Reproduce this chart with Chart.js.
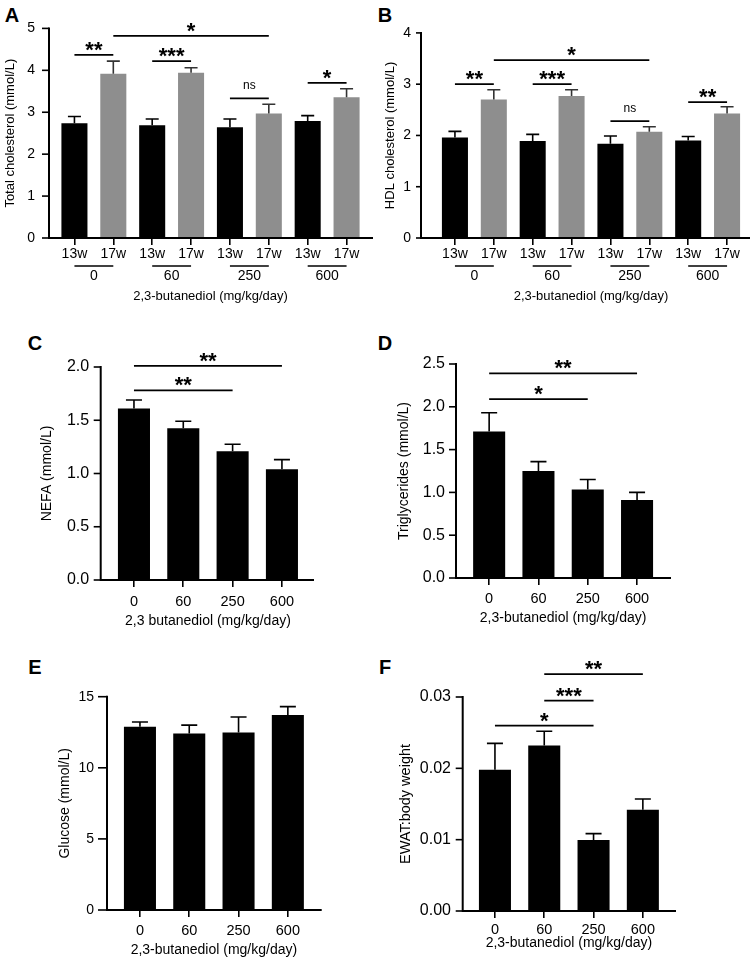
<!DOCTYPE html>
<html>
<head>
<meta charset="utf-8">
<script src="https://cdn.jsdelivr.net/npm/chart.js@4.4.1/dist/chart.umd.min.js"></script>
<style>
  html, body { margin: 0; padding: 0; background: #fff; }
  #fig { position: relative; width: 754px; height: 959px; overflow: hidden; font-family: 'Liberation Sans', Arial, sans-serif; }
  .panel { position: absolute; }
  .tag { position: absolute; font-weight: bold; font-size: 20px; line-height: 1; transform: translate(-50%, -50%); }
</style>
</head>
<body>
<div id="fig">
  <div class="tag" style="left:12px;top:15px">A</div>
  <div class="tag" style="left:385px;top:15px">B</div>
  <div class="tag" style="left:35px;top:343px">C</div>
  <div class="tag" style="left:385px;top:343px">D</div>
  <div class="tag" style="left:35px;top:667px">E</div>
  <div class="tag" style="left:385px;top:667px">F</div>
  <div class="panel" style="left:0;top:0;width:377px;height:310px"><canvas id="chartA"></canvas></div>
  <div class="panel" style="left:377px;top:0;width:377px;height:310px"><canvas id="chartB"></canvas></div>
  <div class="panel" style="left:0;top:310px;width:377px;height:320px"><canvas id="chartC"></canvas></div>
  <div class="panel" style="left:377px;top:310px;width:377px;height:320px"><canvas id="chartD"></canvas></div>
  <div class="panel" style="left:0;top:630px;width:377px;height:329px"><canvas id="chartE"></canvas></div>
  <div class="panel" style="left:377px;top:630px;width:377px;height:329px"><canvas id="chartF"></canvas></div>
</div>
<script>
Chart.defaults.font.family = "'Liberation Sans', Arial, sans-serif";
Chart.defaults.color = '#000';
Chart.defaults.animation = false;

// categories
const weekLabels = ['13w', '17w', '13w', '17w', '13w', '17w', '13w', '17w'];
const doseGroups = ['0', '60', '250', '600'];

// A: total cholesterol (mmol/L), mean and SEM
const cholMeans = [2.74, 3.92, 2.69, 3.94, 2.64, 2.97, 2.79, 3.36];
const cholErrs = [0.16, 0.30, 0.15, 0.12, 0.20, 0.22, 0.13, 0.20];
// B: HDL cholesterol (mmol/L)
const hdlMeans = [1.96, 2.70, 1.89, 2.77, 1.84, 2.07, 1.90, 2.43];
const hdlErrs = [0.12, 0.19, 0.13, 0.12, 0.15, 0.10, 0.08, 0.13];
// C: NEFA (mmol/L)
const nefaMeans = [1.61, 1.425, 1.21, 1.04];
const nefaErrs = [0.08, 0.065, 0.065, 0.09];
// D: triglycerides (mmol/L)
const tgMeans = [1.71, 1.25, 1.035, 0.91];
const tgErrs = [0.22, 0.11, 0.115, 0.09];
// E: glucose (mmol/L)
const gluMeans = [12.89, 12.42, 12.49, 13.71];
const gluErrs = [0.33, 0.58, 1.08, 0.59];
// F: EWAT:body weight
const ewatMeans = [0.0198, 0.0232, 0.00995, 0.0142];
const ewatErrs = [0.0037, 0.0020, 0.0009, 0.0015];

// significance bars: a/b = category index, y = data value of the line
const cholSig = [
  { a: 0, b: 1, y: 4.37, t: '**' },
  { a: 2, b: 3, y: 4.22, t: '***' },
  { a: 1, b: 5, y: 4.82, t: '*' },
  { a: 4, b: 5, y: 3.33, t: 'ns' },
  { a: 6, b: 7, y: 3.70, t: '*' }
];
const hdlSig = [
  { a: 0, b: 1, y: 3.0, t: '**' },
  { a: 2, b: 3, y: 3.0, t: '***' },
  { a: 1, b: 5, y: 3.47, t: '*' },
  { a: 4, b: 5, y: 2.28, t: 'ns' },
  { a: 6, b: 7, y: 2.65, t: '**' }
];
const nefaSig = [
  { a: 0, b: 3, y: 2.01, t: '**' },
  { a: 0, b: 2, y: 1.78, t: '**' }
];
const tgSig = [
  { a: 0, b: 3, y: 2.39, t: '**' },
  { a: 0, b: 2, y: 2.09, t: '*' }
];
const ewatSig = [
  { a: 1, b: 3, y: 0.0332, t: '**' },
  { a: 1, b: 2, y: 0.0295, t: '***' },
  { a: 0, b: 2, y: 0.0260, t: '*' }
];

const GREY = '#8e8e8e';

// axes, error bars and significance lines
const decor = {
  id: 'decor',
  afterDatasetsDraw(chart, args, o) {
    const ctx = chart.ctx, area = chart.chartArea;
    const xs = chart.scales.x, ys = chart.scales.y;
    const x0 = area.left - o.gapL, x1 = area.right + o.gapR;
    const meta = chart.getDatasetMeta(0);
    const vals = chart.data.datasets[0].data;
    ctx.save();

    vals.forEach((v, i) => {
      const bar = meta.data[i];
      const yTop = ys.getPixelForValue(v);
      const yErr = ys.getPixelForValue(v + o.errors[i]);
      const hw = bar.width / 4;
      ctx.strokeStyle = o.twoTone && i % 2 ? '#333' : '#000';
      ctx.lineWidth = 1.6;
      ctx.beginPath();
      ctx.moveTo(bar.x, yTop); ctx.lineTo(bar.x, yErr);
      ctx.moveTo(bar.x - hw, yErr); ctx.lineTo(bar.x + hw, yErr);
      ctx.stroke();
    });

    ctx.strokeStyle = '#000';
    ctx.lineWidth = 2;
    ctx.lineCap = 'square';
    ctx.beginPath();
    ctx.moveTo(x0, area.top); ctx.lineTo(x0, area.bottom); ctx.lineTo(x1, area.bottom);
    ctx.stroke();
    ctx.lineCap = 'butt';
    ctx.lineWidth = 1.6;
    ys.ticks.forEach(t => {
      const y = ys.getPixelForValue(t.value);
      ctx.beginPath(); ctx.moveTo(x0 - o.tickLen, y); ctx.lineTo(x0, y); ctx.stroke();
    });

    // dose underlines below the week labels
    if (o.twoTone) {
      const y = xs.bottom + 3;
      ctx.lineWidth = 1.5;
      for (let g = 0; g < vals.length / 2; g++) {
        ctx.beginPath();
        ctx.moveTo(xs.getPixelForValue(2 * g), y);
        ctx.lineTo(xs.getPixelForValue(2 * g + 1), y);
        ctx.stroke();
      }
    }

    ctx.fillStyle = '#000';
    ctx.textAlign = 'center';
    ctx.textBaseline = 'alphabetic';
    o.sig.forEach(s => {
      const y = ys.getPixelForValue(s.y);
      const xa = xs.getPixelForValue(s.a), xb = xs.getPixelForValue(s.b);
      ctx.lineWidth = 1.8;
      ctx.beginPath(); ctx.moveTo(xa, y); ctx.lineTo(xb, y); ctx.stroke();
      if (s.t === 'ns') {
        ctx.font = "12px 'Liberation Sans', Arial, sans-serif";
        ctx.fillText(s.t, (xa + xb) / 2, y - 9);
      } else {
        ctx.font = "bold 22px 'Liberation Sans', Arial, sans-serif";
        ctx.fillText(s.t, (xa + xb) / 2, y + 2);
      }
    });
    ctx.restore();
  }
};

function makePanel(id, p) {
  const twoTone = !!p.groups;
  const scales = {
    x: {
      type: 'category', offset: true, weight: 0,
      grid: { display: true, drawOnChartArea: false, drawTicks: true, tickLength: 7, offset: false, color: '#000', lineWidth: 1.6 },
      border: { display: false },
      ticks: { font: { size: p.xFont }, padding: p.xPad, maxRotation: 0, autoSkip: false },
      title: { display: !twoTone, text: p.xTitle, font: { size: 14 }, padding: 0 },
      afterFit: s => { s.height = p.xH; }
    },
    y: {
      min: 0, max: p.yMax,
      grid: { display: false, drawTicks: false, tickLength: 0 },
      border: { display: false },
      ticks: { stepSize: p.yStep, padding: p.gapL + p.labelGap, font: { size: p.yFont }, callback: v => v.toFixed(p.dec) },
      title: { display: true, text: p.yTitle, font: { size: p.yTitleFont }, padding: 0 },
      afterFit: s => { s.width = p.yW; }
    }
  };
  if (twoTone) {
    scales.x2 = {
      type: 'category', labels: p.groups, offset: true, position: 'bottom', weight: 1,
      grid: { display: false, drawTicks: false },
      border: { display: false },
      ticks: { font: { size: 14 }, padding: p.gPad, maxRotation: 0 },
      title: { display: true, text: p.xTitle, font: { size: 13 }, padding: 0 },
      afterFit: s => { s.height = p.x2H; }
    };
  }
  return new Chart(document.getElementById(id), {
    type: 'bar',
    data: {
      labels: p.labels,
      datasets: [{
        data: p.means,
        backgroundColor: p.means.map((_, i) => twoTone && i % 2 ? GREY : '#000'),
        borderWidth: 0,
        barPercentage: p.barPct,
        categoryPercentage: 1
      }]
    },
    options: {
      responsive: true,
      maintainAspectRatio: false,
      layout: { padding: p.pad },
      plugins: {
        legend: { display: false },
        tooltip: { enabled: false },
        decor: { gapL: p.gapL, gapR: p.gapR, tickLen: p.tickLen, errors: p.errs, sig: p.sig || [], twoTone: twoTone }
      },
      scales: scales
    },
    plugins: [decor]
  });
}

makePanel('chartA', {
  labels: weekLabels, groups: doseGroups, means: cholMeans, errs: cholErrs, sig: cholSig,
  yMax: 5, yStep: 1, dec: 0, yFont: 14, yTitleFont: 13,
  yTitle: 'Total cholesterol (mmol/L)', xTitle: '2,3-butanediol (mg/kg/day)',
  barPct: 0.67, gapL: 6, gapR: 6, tickLen: 7, labelGap: 14, yW: 52.8, xFont: 14, xPad: 1, xH: 25, gPad: 5, x2H: 40.8,
  pad: { left: 2.2, top: 23, right: 11, bottom: 6.2 }
});
makePanel('chartB', {
  labels: weekLabels, groups: doseGroups, means: hdlMeans, errs: hdlErrs, sig: hdlSig,
  yMax: 4, yStep: 1, dec: 0, yFont: 14, yTitleFont: 13,
  yTitle: 'HDL cholesterol (mmol/L)', xTitle: '2,3-butanediol (mg/kg/day)',
  barPct: 0.67, gapL: 14.5, gapR: 2.5, tickLen: 5, labelGap: 10, yW: 53.3, xFont: 14, xPad: 1, xH: 25, gPad: 5, x2H: 40.8,
  pad: { left: 5.2, top: 23, right: 7.5, bottom: 6.2 }
});
makePanel('chartC', {
  labels: doseGroups, means: nefaMeans, errs: nefaErrs, sig: nefaSig,
  yMax: 2, yStep: 0.5, dec: 1, yFont: 16, yTitleFont: 14,
  yTitle: 'NEFA (mmol/L)', xTitle: '2,3 butanediol (mg/kg/day)',
  barPct: 0.65, gapL: 8.6, gapR: 6.4, tickLen: 7, labelGap: 11.5, yW: 70.1, xFont: 14.5, xPad: 6.5, xH: 49.4,
  pad: { left: 39.2, top: 57, right: 70.4, bottom: 0.6 }
});
makePanel('chartD', {
  labels: doseGroups, means: tgMeans, errs: tgErrs, sig: tgSig,
  yMax: 2.5, yStep: 0.5, dec: 1, yFont: 16, yTitleFont: 14,
  yTitle: 'Triglycerides (mmol/L)', xTitle: '2,3-butanediol (mg/kg/day)',
  barPct: 0.65, gapL: 8.5, gapR: 8.3, tickLen: 7, labelGap: 11, yW: 68.3, xFont: 14.5, xPad: 5, xH: 48.7,
  pad: { left: 19.2, top: 54, right: 92.3, bottom: 3.3 }
});
makePanel('chartE', {
  labels: doseGroups, means: gluMeans, errs: gluErrs,
  yMax: 15, yStep: 5, dec: 0, yFont: 14, yTitleFont: 14,
  yTitle: 'Glucose (mmol/L)', xTitle: '2,3-butanediol (mg/kg/day)',
  barPct: 0.65, gapL: 8.3, gapR: 8.2, tickLen: 9, labelGap: 13, yW: 58.1, xFont: 14.5, xPad: 5, xH: 48.4,
  pad: { left: 57.2, top: 66.7, right: 64.5, bottom: 0.6 }
});
makePanel('chartF', {
  labels: doseGroups, means: ewatMeans, errs: ewatErrs, sig: ewatSig,
  yMax: 0.03, yStep: 0.01, dec: 2, yFont: 16, yTitleFont: 14.5,
  yTitle: 'EWAT:body weight', xTitle: '2,3-butanediol (mg/kg/day)',
  barPct: 0.65, gapL: 7.6, gapR: 7.5, tickLen: 7, labelGap: 11.7, yW: 73.1, xFont: 14.5, xPad: 3, xH: 40.4,
  pad: { left: 20.2, top: 67, right: 86.5, bottom: 7.6 }
});
</script>
</body>
</html>
